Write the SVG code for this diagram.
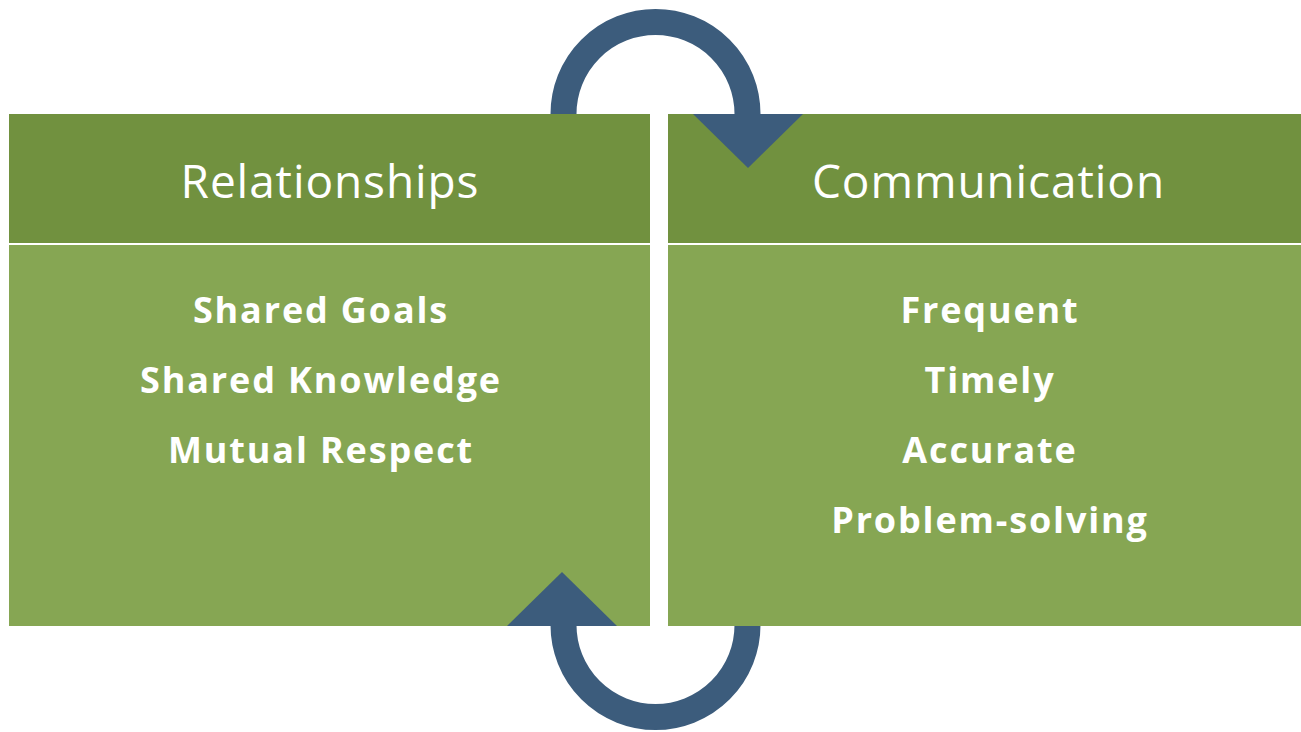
<svg xmlns="http://www.w3.org/2000/svg" width="1301" height="732" viewBox="0 0 1301 732">
<style>
.hdr{fill:#71913f}
.body{fill:#86a653}
.arc{fill:none;stroke:#3c5c7c;stroke-width:26}
.head{fill:#3c5c7c}
.t1{font-family:"Open Sans","Noto Sans",sans-serif;font-size:46px;letter-spacing:0.9px;fill:#fff;text-anchor:middle}
.t2{font-family:"Open Sans","Noto Sans",sans-serif;font-size:36px;letter-spacing:1.85px;font-weight:bold;fill:#fff;text-anchor:middle}
</style>
<rect width="1301" height="732" fill="#fff"/>
<g id="connectors">
<path class="arc" d="M563.5,120 L563.5,114 A92,92 0 0 1 747.5,114 L747.5,120"/>
<path class="arc" d="M747.5,620 L747.5,625 A92,92 0 0 1 563.5,625 L563.5,620"/>
</g>
<g id="relationships">
<rect class="hdr" x="9" y="114" width="641" height="129"/>
<rect class="body" x="9" y="245" width="641" height="381"/>
<text class="t1" x="330" y="198">Relationships</text>
<text class="t2" x="321" y="323">Shared Goals</text>
<text class="t2" x="321" y="393">Shared Knowledge</text>
<text class="t2" x="321" y="463">Mutual Respect</text>
</g>
<g id="communication">
<rect class="hdr" x="668" y="114" width="633" height="129"/>
<rect class="body" x="668" y="245" width="633" height="381"/>
<text class="t1" x="988.5" y="198">Communication</text>
<text class="t2" x="990" y="323">Frequent</text>
<text class="t2" x="990" y="393">Timely</text>
<text class="t2" x="990" y="463">Accurate</text>
<text class="t2" x="990" y="533">Problem-solving</text>
</g>
<g id="arrowheads">
<polygon class="head" points="693,114 803,114 748,168"/>
<polygon class="head" points="507,626 617,626 562,572"/>
</g>
</svg>
